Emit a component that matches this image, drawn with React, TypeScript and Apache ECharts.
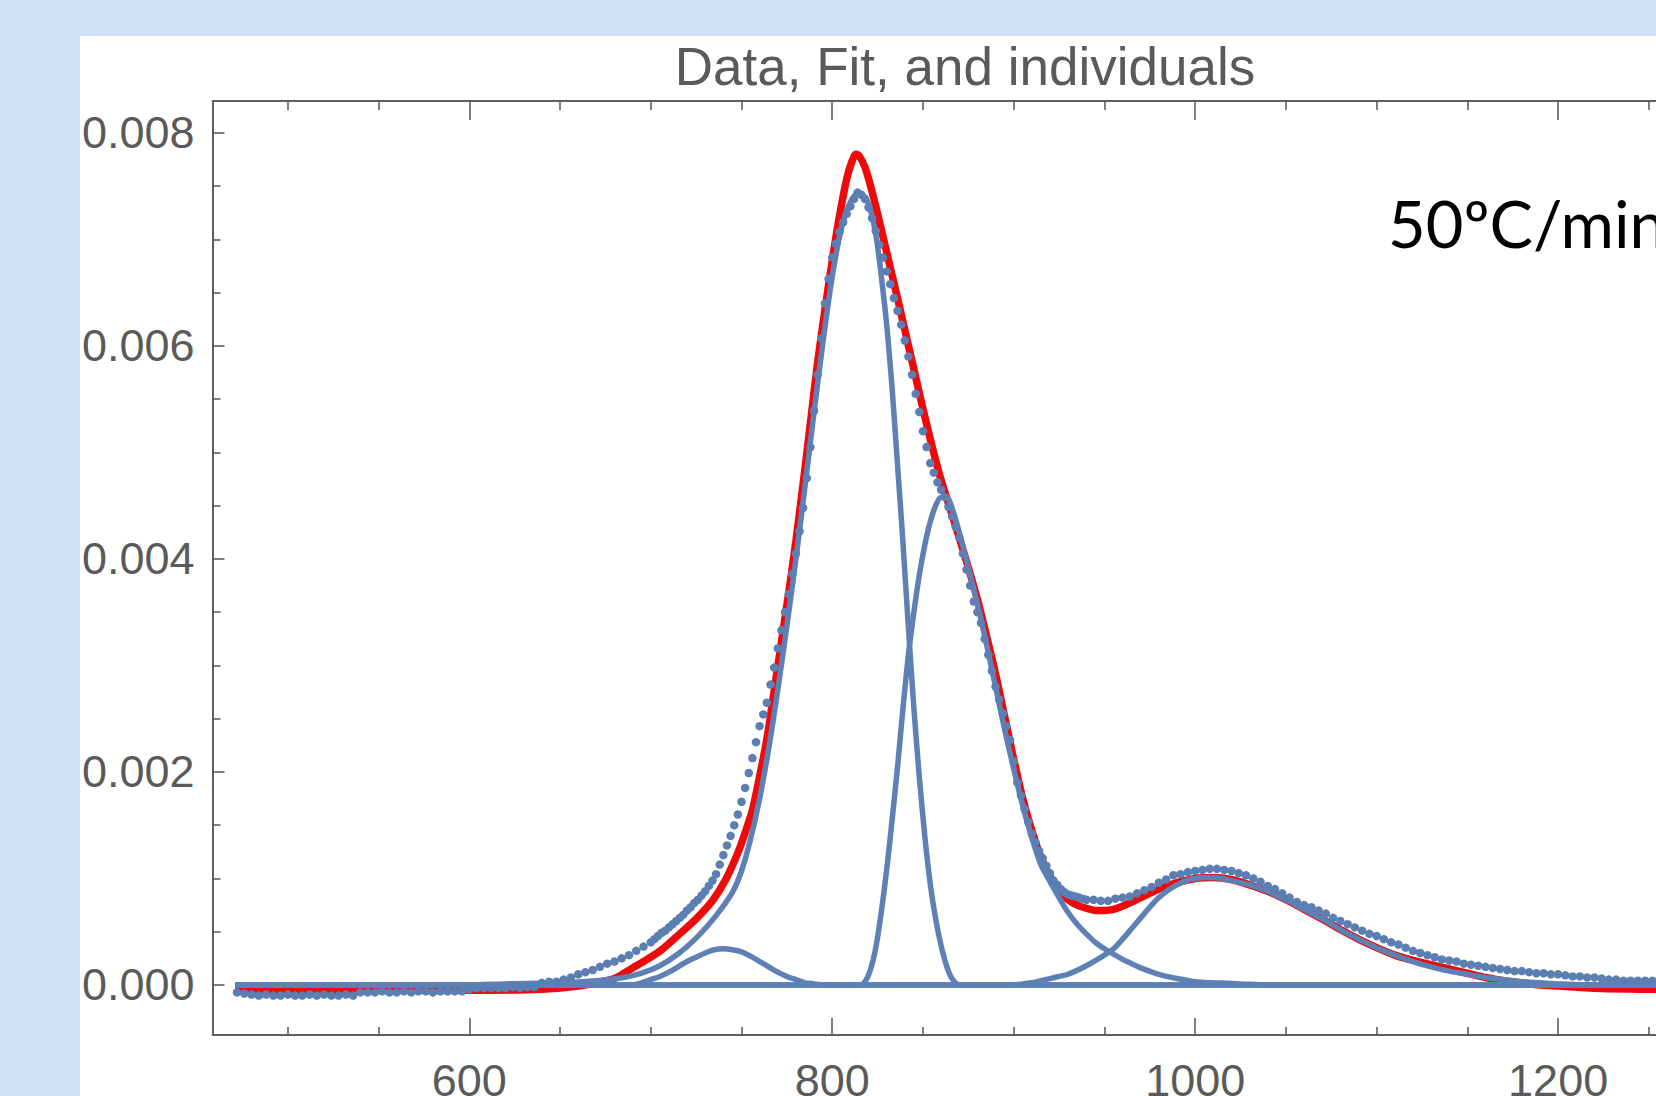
import React, { useEffect, useRef } from "react";
import * as echarts from "echarts";

const X_MIN = 458.5;
const X_MAX = 1287;
const Y_MIN = -0.00047;
const Y_MAX = 0.0083;

const xMajorTicks = [600, 800, 1000, 1200];
const xMinorTicks = [500, 550, 650, 700, 750, 850, 900, 950, 1050, 1100, 1150, 1250];
const yMajorTicks = [0, 0.002, 0.004, 0.006, 0.008];
const yMinorTicks = [0.0005, 0.001, 0.0015, 0.0025, 0.003, 0.0035, 0.0045, 0.005, 0.0055, 0.0065, 0.007, 0.0075];

const chartTitle = "Data, Fit, and individuals";
const rateLabel = "50ºC/min";

// measured points [T, signal]
const measured: [number, number][] = [
  [472, -0.00007], [476, -0.00008], [480, -0.00009], [484, -0.0001], [488, -0.00009], [492, -0.0001],
  [496, -0.0001], [500, -0.00009], [504, -0.0001], [508, -0.0001], [512, -0.00009], [516, -0.0001],
  [520, -0.00009], [524, -0.0001], [528, -0.0001], [532, -0.00009], [536, -0.0001], [540, -0.00007],
  [544, -0.00007], [548, -0.00007], [552, -0.00006], [556, -0.00007], [560, -0.00007], [564, -0.00006],
  [568, -0.00007], [572, -0.00006], [576, -0.00006], [580, -0.00007], [584, -0.00006], [588, -0.00006],
  [592, -0.00006], [596, -0.00006], [600, -0.00004], [604, -0.00003], [608, -0.00003], [612, -0.00003],
  [616, -0.00003], [620, -0.00003], [624, -0.00002], [628, -0.00003], [632, -0.00002], [636, -0.00002],
  [640, 0.00002], [644, 0.00003], [648, 0.00003], [652, 0.00005], [656, 0.00007], [660, 0.0001],
  [664, 0.00012], [668, 0.00014], [672, 0.00017], [676, 0.0002], [680, 0.00022], [684, 0.00025],
  [688, 0.00028], [692, 0.00032], [696, 0.00036], [700, 0.0004], [702, 0.00043], [704, 0.00046],
  [706, 0.00049], [708, 0.00051], [710, 0.00054], [712, 0.00057], [714, 0.0006], [716, 0.00063],
  [718, 0.00066], [720, 0.0007], [722, 0.00073], [724, 0.00077], [726, 0.0008], [728, 0.00084],
  [730, 0.00088], [732, 0.00093], [734, 0.00098], [736, 0.00104], [738, 0.00113], [740, 0.00122],
  [742, 0.00131], [744, 0.0014], [746, 0.0015], [748, 0.0016], [750, 0.00172], [752, 0.00185],
  [754, 0.00199], [756, 0.00213], [758, 0.00228], [760, 0.00243], [762, 0.00254], [764, 0.00265],
  [766, 0.00282], [768, 0.00298], [770, 0.00316], [772, 0.00333], [774, 0.0035], [776, 0.00367],
  [778, 0.00386], [780, 0.00405], [782, 0.00426], [784, 0.00448], [786, 0.00476], [788, 0.00505],
  [790, 0.00539], [792, 0.00573], [794, 0.00607], [796, 0.0064], [798, 0.00663], [800, 0.00683],
  [802, 0.00696], [804, 0.00707], [806, 0.00716], [808, 0.00724], [810, 0.00731], [812, 0.00738],
  [814, 0.00744], [816, 0.00742], [818, 0.00738], [820, 0.0073], [822, 0.0072], [824, 0.00708],
  [826, 0.00695], [828, 0.00683], [830, 0.0067], [832, 0.00658], [834, 0.00645], [836, 0.00633],
  [838, 0.0062], [840, 0.00605], [842, 0.0059], [844, 0.00573], [846, 0.00555], [848, 0.00538],
  [850, 0.0052], [852, 0.00505], [854, 0.0049], [856, 0.00481], [858, 0.00472], [860, 0.00465],
  [862, 0.00458], [864, 0.00449], [866, 0.0044], [868, 0.0043], [870, 0.0042], [872, 0.00405],
  [874, 0.0039], [876, 0.00375], [878, 0.0036], [880, 0.0035], [882, 0.0034], [884, 0.00325],
  [886, 0.0031], [888, 0.00295], [890, 0.0028], [892, 0.00268], [894, 0.00255], [896, 0.00243],
  [898, 0.0023], [900, 0.0021], [902, 0.0019], [904, 0.00178], [906, 0.00165], [908, 0.00153],
  [910, 0.00142], [912, 0.00134], [914, 0.00126], [916, 0.00119], [918, 0.00112], [920, 0.00105],
  [922, 0.00098], [924, 0.00094], [926, 0.0009], [928, 0.00087], [930, 0.00085], [932, 0.00084],
  [934, 0.00083], [936, 0.00082], [938, 0.00081], [940, 0.0008], [944, 0.0008], [948, 0.00079],
  [952, 0.00079], [956, 0.00081], [960, 0.00082], [964, 0.00083], [968, 0.00086], [972, 0.00089],
  [976, 0.00092], [980, 0.00096], [984, 0.00099], [988, 0.00103], [992, 0.00104], [996, 0.00106],
  [1000, 0.00107], [1004, 0.00108], [1008, 0.00109], [1012, 0.00109], [1016, 0.00108], [1020, 0.00107],
  [1024, 0.00105], [1028, 0.00103], [1032, 0.001], [1036, 0.00097], [1040, 0.00093], [1044, 0.0009],
  [1048, 0.00086], [1052, 0.00082], [1056, 0.00078], [1060, 0.00075], [1064, 0.00073], [1068, 0.0007],
  [1072, 0.00067], [1076, 0.00063], [1080, 0.0006], [1084, 0.00057], [1088, 0.00054], [1092, 0.00051],
  [1096, 0.00048], [1100, 0.00046], [1104, 0.00043], [1108, 0.0004], [1112, 0.00038], [1116, 0.00035],
  [1120, 0.00032], [1124, 0.0003], [1128, 0.00028], [1132, 0.00026], [1136, 0.00024], [1140, 0.00023],
  [1144, 0.00022], [1148, 0.0002], [1152, 0.00019], [1156, 0.00018], [1160, 0.00017], [1164, 0.00016],
  [1168, 0.00015], [1172, 0.00014], [1176, 0.00013], [1180, 0.00013], [1184, 0.00012], [1188, 0.00011],
  [1192, 0.00011], [1196, 0.0001], [1200, 0.0001], [1204, 0.00009], [1208, 0.00008], [1212, 0.00008],
  [1216, 0.00007], [1220, 0.00007], [1224, 0.00006], [1228, 0.00005], [1232, 0.00005], [1236, 0.00004],
  [1240, 0.00004], [1244, 0.00004], [1248, 0.00004], [1252, 0.00004], [1256, 0.00003], [1260, 0.00003],
  [1264, 0.00003], [1268, 0.00003], [1272, 0.00003], [1276, 0.00003],
];

// total fit (red)
const fitCurve: [number, number][] = [
  [471, -0.00005], [600, -0.00005], [640, -0.00004], [660, -0.00001], [670, 0.00002], [680, 0.00006],
  [690, 0.00016], [698, 0.00024], [706, 0.00033], [716, 0.00048], [725, 0.00062], [734, 0.00079],
  [741, 0.00098], [748, 0.00124], [752, 0.00143], [756, 0.00164], [760, 0.00196], [764, 0.00231],
  [768, 0.00276], [772, 0.00322], [776, 0.00368], [780, 0.00417], [784, 0.00471], [788, 0.00528],
  [792, 0.00585], [796, 0.00634], [800, 0.0068], [804, 0.00722], [808, 0.00757], [811, 0.00774],
  [813, 0.0078], [815, 0.00778], [818, 0.00768], [821, 0.00751], [825, 0.00724], [830, 0.00688],
  [835, 0.00652], [840, 0.00615], [845, 0.00578], [850, 0.00541], [855, 0.00506], [860, 0.00474],
  [865, 0.00447], [870, 0.0042], [875, 0.00392], [880, 0.00362], [885, 0.00328], [890, 0.00292],
  [895, 0.00252], [900, 0.00212], [905, 0.00175], [910, 0.00145], [915, 0.0012], [920, 0.00102],
  [925, 0.00088], [930, 0.0008], [935, 0.00075], [940, 0.00072], [945, 0.0007], [950, 0.0007],
  [955, 0.00071], [960, 0.00074], [970, 0.00082], [980, 0.0009], [990, 0.00096], [1000, 0.001],
  [1010, 0.00101], [1020, 0.00099], [1030, 0.00094], [1040, 0.00088], [1050, 0.0008], [1060, 0.00071],
  [1070, 0.00062], [1080, 0.00052], [1090, 0.00043], [1100, 0.00035], [1110, 0.00028], [1120, 0.00023],
  [1130, 0.00019], [1140, 0.00015], [1150, 0.00011], [1160, 0.00007], [1170, 0.00004], [1180, 0.00002],
  [1190, 0], [1200, -0.00001], [1220, -0.00003], [1250, -0.00004], [1276, -0.00005],
];

// individual components (blue lines)
const peakA: [number, number][] = [
  [471, 0], [690, 0], [695, 0.00002], [700, 0.00005], [705, 0.00008], [710, 0.00012], [715, 0.00017],
  [720, 0.00022], [725, 0.00026], [730, 0.0003], [735, 0.00033], [740, 0.00034], [745, 0.00033],
  [750, 0.00031], [755, 0.00027], [760, 0.00022], [765, 0.00017], [770, 0.00012], [775, 0.00008],
  [780, 0.00005], [785, 0.00002], [790, 0.00001], [795, 0], [1276, 0],
];

const peakB: [number, number][] = [
  [471, 0], [600, 0], [620, 0.00001], [650, 0.00002], [670, 0.00004], [685, 0.00007], [695, 0.00011],
  [705, 0.00018], [715, 0.00029], [725, 0.00044], [735, 0.00063], [745, 0.00087], [750, 0.00107],
  [755, 0.00137], [760, 0.00175], [765, 0.00222], [770, 0.00277], [775, 0.00337], [780, 0.004],
  [785, 0.00468], [790, 0.00538], [795, 0.00605], [800, 0.00665], [805, 0.0071], [810, 0.00735],
  [814, 0.00743], [818, 0.0074], [821, 0.00728], [824, 0.00705], [827, 0.00666], [830, 0.0062],
  [833, 0.0056], [836, 0.00488], [839, 0.00415], [842, 0.00335], [845, 0.0026], [848, 0.00195],
  [851, 0.0014], [854, 0.00095], [857, 0.00062], [860, 0.00037], [863, 0.00018], [866, 0.00006],
  [870, 0], [1276, 0],
];

const peakC: [number, number][] = [
  [471, 0], [815, 0], [818, 0.00003], [821, 0.00014], [824, 0.00035], [827, 0.00068], [830, 0.00108],
  [833, 0.00155], [836, 0.00205], [839, 0.0026], [842, 0.0031], [845, 0.0035], [848, 0.00385],
  [851, 0.00413], [854, 0.00435], [857, 0.0045], [860, 0.00458], [863, 0.00458], [866, 0.00448],
  [870, 0.00425], [875, 0.00392], [880, 0.00358], [885, 0.0032], [890, 0.0028], [895, 0.0024],
  [900, 0.00203], [905, 0.00168], [910, 0.00138], [915, 0.00113], [920, 0.00097], [925, 0.00082],
  [930, 0.00068], [935, 0.00057], [940, 0.00048], [945, 0.0004], [950, 0.00034], [955, 0.00029],
  [960, 0.00024], [965, 0.0002], [970, 0.00016], [980, 0.0001], [990, 0.00006], [1000, 0.00003],
  [1010, 0.00002], [1025, 0.00001], [1040, 0], [1276, 0],
];

const peakD: [number, number][] = [
  [471, 0], [900, 0], [905, 0.00001], [910, 0.00002], [915, 0.00004], [920, 0.00006], [925, 0.00008],
  [930, 0.0001], [940, 0.00018], [950, 0.00028], [955, 0.00034], [960, 0.00043], [965, 0.00053],
  [970, 0.00063], [975, 0.00073], [980, 0.00082], [985, 0.00089], [990, 0.00094], [995, 0.00098],
  [1000, 0.001], [1005, 0.00101], [1010, 0.00101], [1015, 0.001], [1020, 0.00098], [1030, 0.00094],
  [1040, 0.00088], [1050, 0.0008], [1060, 0.00071], [1070, 0.00062], [1080, 0.00052], [1090, 0.00043],
  [1100, 0.00035], [1110, 0.00028], [1120, 0.00022], [1130, 0.00017], [1140, 0.00013], [1150, 0.0001],
  [1160, 0.00007], [1170, 0.00005], [1180, 0.00003], [1190, 0.00002], [1200, 0.00001], [1220, 0],
  [1276, 0],
];

const BLUE = "#5e81b5";
const DOT = "#5b7fb3";
const RED = "#ee0a0a";
const FRAME = "#5f5f5f";
const LABEL = "#5a5a5a";
const FONT = "'Liberation Sans', Arial, sans-serif";

function xAxisDef(position: "top" | "bottom", ticks: number[], len: number, withLabels: boolean, withLine: boolean) {
  return {
    type: "value",
    min: X_MIN,
    max: X_MAX,
    position,
    axisLine: { show: withLine, onZero: false, lineStyle: { color: FRAME, width: 2 } },
    axisTick: { show: true, inside: true, length: len, customValues: ticks, lineStyle: { color: FRAME, width: 1.6 } },
    axisLabel: withLabels
      ? { show: true, customValues: ticks, margin: 23, fontSize: 45, fontFamily: FONT, color: LABEL, formatter: (v: number) => String(v) }
      : { show: false },
    splitLine: { show: false },
  };
}

function yAxisDef(ticks: number[], len: number, withLabels: boolean, withLine: boolean) {
  return {
    type: "value",
    min: Y_MIN,
    max: Y_MAX,
    position: "left",
    axisLine: { show: withLine, onZero: false, lineStyle: { color: FRAME, width: 2 } },
    axisTick: { show: true, inside: true, length: len, customValues: ticks, lineStyle: { color: FRAME, width: 1.6 } },
    axisLabel: withLabels
      ? { show: true, customValues: ticks, margin: 18, fontSize: 45, fontFamily: FONT, color: LABEL, formatter: (v: number) => v.toFixed(3) }
      : { show: false },
    splitLine: { show: false },
  };
}

function componentSeries(name: string, data: [number, number][]) {
  return {
    name,
    type: "line",
    data,
    smooth: 0.3,
    showSymbol: false,
    symbol: "none",
    z: 3,
    lineStyle: { color: BLUE, width: 5.5 },
    xAxisIndex: 0,
    yAxisIndex: 0,
  };
}

export default function App() {
  const ref = useRef<HTMLDivElement>(null);

  useEffect(() => {
    if (!ref.current) return;
    const chart = echarts.init(ref.current, undefined, { renderer: "svg" });
    chart.setOption({
      animation: false,
      backgroundColor: "#d0e2f8",
      grid: { left: 212.5, top: 101, right: -60, bottom: 61, containLabel: false, outerBoundsMode: "none" },
      xAxis: [
        xAxisDef("bottom", xMajorTicks, 17, true, true),
        xAxisDef("bottom", xMinorTicks, 8, false, false),
        xAxisDef("top", xMajorTicks, 19, false, true),
        xAxisDef("top", xMinorTicks, 9, false, false),
      ],
      yAxis: [
        yAxisDef(yMajorTicks, 12, true, true),
        yAxisDef(yMinorTicks, 8, false, false),
      ],
      series: [
        {
          name: "Fit",
          type: "line",
          data: fitCurve,
          smooth: 0.3,
          showSymbol: false,
          symbol: "none",
          z: 2,
          lineStyle: { color: RED, width: 7.5 },
          xAxisIndex: 0,
          yAxisIndex: 0,
        },
        componentSeries("Peak 1", peakA),
        componentSeries("Peak 2", peakB),
        componentSeries("Peak 3", peakC),
        componentSeries("Peak 4", peakD),
        {
          name: "Data",
          type: "scatter",
          data: measured,
          symbol: "circle",
          symbolSize: 8.5,
          z: 4,
          itemStyle: { color: DOT, opacity: 1 },
          xAxisIndex: 0,
          yAxisIndex: 0,
        },
      ],
      graphic: [
        {
          type: "rect",
          z: -10,
          silent: true,
          shape: { x: 80, y: 36, width: 1600, height: 1100 },
          style: { fill: "#ffffff" },
        },
        {
          type: "text",
          z: 100,
          style: {
            text: chartTitle,
            x: 965,
            y: 66,
            fontSize: 53,
            fontFamily: FONT,
            fill: LABEL,
            align: "center",
            textAlign: "center",
            verticalAlign: "middle",
            textVerticalAlign: "middle",
          },
        },
        {
          type: "text",
          z: 100,
          style: {
            text: rateLabel,
            x: 1388,
            y: 223,
            fontSize: 65,
            fontFamily: "Lato, 'Open Sans', sans-serif",
            fill: "#000000",
            align: "left",
            textAlign: "left",
            verticalAlign: "middle",
            textVerticalAlign: "middle",
          },
        },
      ],
    });
    return () => chart.dispose();
  }, []);

  return (
    <div
      ref={ref}
      style={{ position: "fixed", left: 0, top: 0, width: 1656, height: 1096 }}
    />
  );
}
